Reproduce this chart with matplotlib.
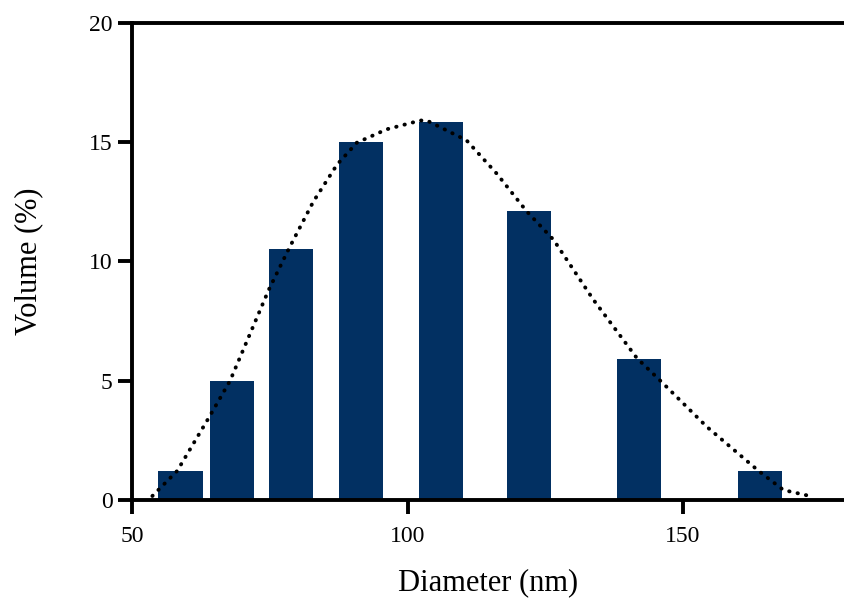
import matplotlib.pyplot as plt

# bar data
diam = [58.8, 68.2, 78.8, 91.6, 106.1, 122.0, 142.0, 163.9]
volume = [1.2, 5.0, 10.5, 15.0, 15.85, 12.1, 5.9, 1.2]

# dotted fit curve
fit_x = [53.7, 58.2, 64.2, 67.8, 74.8, 78.4, 82.9, 87.2, 90.8, 96.2, 102.3, 103.5,
         110.7, 116.2, 121.6, 126.5, 133.7, 141.6, 146.4, 154.3, 163.7, 168.2, 172.4]
fit_y = [0.17, 1.22, 3.55, 5.0, 8.8, 10.5, 12.5, 14.05, 14.97, 15.53, 15.9, 15.9,
         15.07, 13.67, 12.1, 10.9, 8.4, 5.95, 4.88, 3.07, 1.22, 0.42, 0.2]

plt.rcParams['font.family'] = 'Liberation Serif'

fig = plt.figure(figsize=(8.44, 6.02), dpi=100)
ax = fig.add_axes([0.1564, 0.1694, 0.8436, 0.793])

ax.bar(diam, volume, width=8, color='#023062', zorder=2)
ax.plot(fit_x, fit_y, color='black', lw=2.8, linestyle=(0, (0.1, 2.1)),
        dash_capstyle='round', zorder=3)

ax.set_xlim(50, 179.2)
ax.set_ylim(0, 20)
ax.set_xticks([50, 100, 150])
ax.set_yticks([0, 5, 10, 15, 20])
ax.spines['right'].set_visible(False)
for s in ['left', 'bottom', 'top']:
    ax.spines[s].set_linewidth(2.8)
ax.tick_params(direction='out', length=10, width=2.8, labelsize=17)
ax.tick_params(axis='x', pad=9)
ax.tick_params(axis='y', pad=4)
ax.set_xlabel('Diameter (nm)', fontsize=22, labelpad=15)
ax.set_ylabel('Volume (%)', fontsize=22, labelpad=33)

fig.savefig('out.png', dpi=100)
plt.close(fig)
